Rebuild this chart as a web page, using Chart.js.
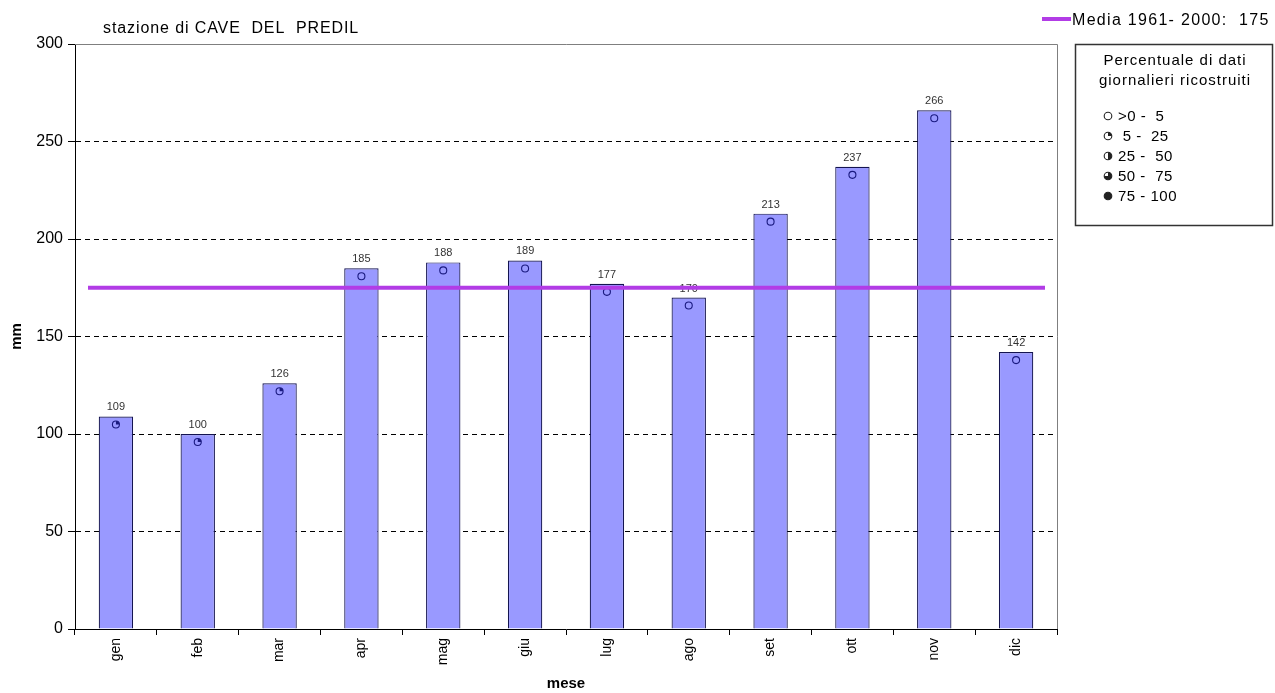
<!DOCTYPE html>
<html>
<head>
<meta charset="utf-8">
<script src="https://cdn.jsdelivr.net/npm/chart.js@4/dist/chart.umd.min.js"></script>
<style>
  html, body { margin: 0; padding: 0; background: #ffffff; }
  #wrap { width: 1275px; height: 693px; }
</style>
</head>
<body>
<div id="wrap"><canvas id="c" width="1275" height="693"></canvas></div>
<script>
// Monthly precipitation (mm) at the station
const months = ['gen', 'feb', 'mar', 'apr', 'mag', 'giu', 'lug', 'ago', 'set', 'ott', 'nov', 'dic'];
const precipitation = [109, 100, 126, 185, 188, 189, 177, 170, 213, 237, 266, 142];
// Share of reconstructed daily data, as index into classLabels
const reconstructedClass = [1, 1, 1, 0, 0, 0, 0, 0, 0, 0, 0, 0];
const classLabels = ['>0 -  5', ' 5 -  25', '25 -  50', '50 -  75', '75 - 100'];
const meanValue = 175;
const meanLabel = 'Media 1961- 2000:  175';
const stationTitle = 'stazione di CAVE  DEL  PREDIL';
const legendTitle = ['Percentuale di dati', 'giornalieri ricostruiti'];
const yMin = 0, yMax = 300, yStep = 50;

const FONT = '"Liberation Sans", Arial, sans-serif';
const MEAN_COLOR = '#B23CE6';

// circle with a pie-shaped filled share (0..4 quarters)
function drawMarker(ctx, x, y, r, quarters, color) {
  ctx.save();
  ctx.lineWidth = 1.1;
  ctx.strokeStyle = color;
  if (quarters > 0) {
    ctx.fillStyle = color;
    ctx.beginPath();
    ctx.moveTo(x, y);
    ctx.arc(x, y, r, -Math.PI / 2, -Math.PI / 2 + quarters * Math.PI / 2);
    ctx.closePath();
    ctx.fill();
  }
  ctx.beginPath();
  ctx.arc(x, y, r, 0, Math.PI * 2);
  ctx.stroke();
  ctx.restore();
}

function spacedText(ctx, text, x, y, spacing) {
  if ('letterSpacing' in ctx) {
    ctx.letterSpacing = spacing + 'px';
    ctx.fillText(text, x, y);
    ctx.letterSpacing = '0px';
  } else {
    ctx.fillText(text, x, y);
  }
}

const decorations = {
  id: 'decorations',
  beforeDatasetsDraw(chart) {
    const { ctx, chartArea: a } = chart;
    // frame on top and right of the plot area
    ctx.save();
    ctx.strokeStyle = '#7f7f7f';
    ctx.lineWidth = 1;
    ctx.beginPath();
    ctx.moveTo(a.left, a.top + 0.5);
    ctx.lineTo(a.right + 0.5, a.top + 0.5);
    ctx.lineTo(a.right + 0.5, a.bottom);
    ctx.stroke();
    ctx.restore();
  },
  afterDatasetsDraw(chart) {
    const { ctx, chartArea: a } = chart;
    const y = chart.scales.y;
    const meta = chart.getDatasetMeta(0);

    // value labels above the bars
    ctx.save();
    ctx.font = '11px ' + FONT;
    ctx.fillStyle = '#333333';
    ctx.textAlign = 'center';
    ctx.textBaseline = 'alphabetic';
    meta.data.forEach((bar, i) => {
      ctx.fillText(String(precipitation[i]), bar.x, bar.y - 6);
    });
    ctx.restore();

    // reconstructed-data markers inside the bars
    meta.data.forEach((bar, i) => {
      drawMarker(ctx, bar.x, bar.y + 8, 3.5, reconstructedClass[i], '#1a1a80');
    });

    // long-term mean
    const my = y.getPixelForValue(meanValue);
    ctx.save();
    ctx.strokeStyle = MEAN_COLOR;
    ctx.lineWidth = 4;
    ctx.beginPath();
    ctx.moveTo(a.left + 13, my);
    ctx.lineTo(a.right - 12, my);
    ctx.stroke();
    ctx.restore();
  },
  afterDraw(chart) {
    const { ctx } = chart;
    ctx.save();
    // station name
    ctx.font = '16px ' + FONT;
    ctx.fillStyle = '#000';
    ctx.textBaseline = 'alphabetic';
    ctx.textAlign = 'left';
    spacedText(ctx, stationTitle, 103, 33, 0.9);

    // mean legend entry
    ctx.strokeStyle = MEAN_COLOR;
    ctx.lineWidth = 4;
    ctx.beginPath();
    ctx.moveTo(1042, 19);
    ctx.lineTo(1071, 19);
    ctx.stroke();
    spacedText(ctx, meanLabel, 1072, 25, 1.3);

    // legend box for reconstructed data
    ctx.strokeStyle = '#333';
    ctx.lineWidth = 1.5;
    ctx.strokeRect(1075.5, 44.5, 197, 181);
    ctx.font = '15px ' + FONT;
    ctx.textAlign = 'left';
    [65, 85].forEach((by, k) => {
      ctx.letterSpacing = '1px';
      const w = ctx.measureText(legendTitle[k]).width;
      ctx.letterSpacing = '0px';
      spacedText(ctx, legendTitle[k], 1175 - w / 2, by, 1);
    });
    classLabels.forEach((lab, i) => {
      const cy = 116 + i * 20;
      drawMarker(ctx, 1108, cy, 3.8, i, '#222');
      ctx.fillStyle = '#000';
      spacedText(ctx, lab, 1118, cy + 5, 0.5);
    });
    ctx.restore();
  }
};

new Chart(document.getElementById('c'), {
  type: 'bar',
  data: {
    labels: months,
    datasets: [{
      data: precipitation,
      backgroundColor: '#9999FF',
      borderColor: '#141450',
      borderWidth: 1.2,
      barPercentage: 0.42,
      categoryPercentage: 1
    }]
  },
  options: {
    responsive: false,
    animation: false,
    devicePixelRatio: 1,
    layout: { padding: { left: 0, top: 44, right: 218, bottom: 0 } },
    plugins: { legend: { display: false }, tooltip: { enabled: false }, title: { display: false } },
    scales: {
      x: {
        offset: true,
        grid: { drawOnChartArea: false, tickLength: 6, color: '#000', offset: true },
        border: { color: '#000', width: 1 },
        ticks: { minRotation: 90, maxRotation: 90, padding: 3, color: '#000', font: { family: FONT, size: 14 } },
        title: { display: true, text: 'mese', color: '#000', font: { family: FONT, size: 15, weight: 'bold' }, padding: { top: 0, bottom: 0 } },
        afterFit(s) { s.height = 64; }
      },
      y: {
        min: yMin, max: yMax,
        ticks: { stepSize: yStep, padding: 5, color: '#000', font: { family: FONT, size: 16 } },
        grid: {
          color: c => (c.tick && (c.tick.value === yMin || c.tick.value === yMax)) ? 'rgba(0,0,0,0)' : '#000',
          lineWidth: 1,
          tickLength: 7,
          tickColor: '#000',
          tickBorderDash: []
        },
        border: { color: '#000', width: 1, dash: [5, 4] },
        title: { display: true, text: 'mm', color: '#000', font: { family: FONT, size: 15, weight: 'bold' }, padding: { top: 8, bottom: 0 } },
        afterFit(s) { s.width = 75; }
      }
    }
  },
  plugins: [decorations]
});
</script>
</body>
</html>
